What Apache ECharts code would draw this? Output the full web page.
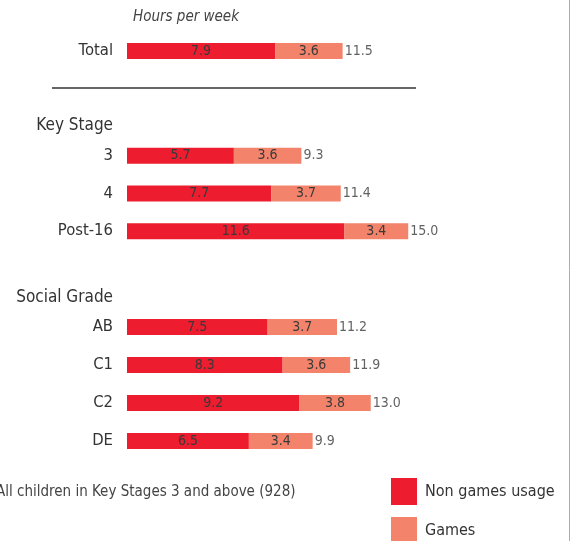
<!DOCTYPE html>
<html>
<head>
<meta charset="utf-8">
<script src="https://cdn.jsdelivr.net/npm/echarts@6/dist/echarts.min.js"></script>
<style>
  html, body { margin: 0; padding: 0; background: #fff; }
  #chart { width: 570px; height: 541px; }
</style>
</head>
<body>
<div id="chart"></div>
<script>
// data (hours per week)
const totalCats = ['Total'];
const totalNon = [7.9];
const totalGames = [3.6];
const totalAll = [11.5];

const ksCats = ['3', '4', 'Post-16'];
const ksNon = [5.7, 7.7, 11.6];
const ksGames = [3.6, 3.7, 3.4];
const ksAll = [9.3, 11.4, 15.0];

const sgCats = ['AB', 'C1', 'C2', 'DE'];
const sgNon = [7.5, 8.3, 9.2, 6.5];
const sgGames = [3.7, 3.6, 3.8, 3.4];
const sgAll = [11.2, 11.9, 13.0, 9.9];

const RED = '#ED1C2E';
const SALMON = '#F3836B';
const FONT = '"Liberation Sans Narrow", "DejaVu Sans Condensed", sans-serif';

const chart = echarts.init(document.getElementById('chart'));

// one grid per block so rows sit where they do in the picture
const blocks = [
  { cats: totalCats, non: totalNon, games: totalGames, all: totalAll, top: 32, height: 38 },
  { cats: ksCats, non: ksNon, games: ksGames, all: ksAll, top: 137, height: 113 },
  { cats: sgCats, non: sgNon, games: sgGames, all: sgAll, top: 308, height: 152 }
];

const grid = [], xAxis = [], yAxis = [], series = [];
const inLabel = {
  show: true, position: 'inside', color: '#3a3a3a',
  fontFamily: FONT, fontSize: 14, formatter: p => p.value.toFixed(1)
};

blocks.forEach((b, i) => {
  grid.push({ left: 127, width: 300, top: b.top, height: b.height });
  xAxis.push({ gridIndex: i, type: 'value', min: 0, max: 16, show: false });
  yAxis.push({
    gridIndex: i, type: 'category', data: b.cats, inverse: true,
    axisLine: { show: false }, axisTick: { show: false },
    axisLabel: { color: '#333', fontFamily: FONT, fontSize: 16.5, margin: 14 }
  });
  series.push({
    name: 'Non games usage', type: 'bar', stack: 's' + i,
    xAxisIndex: i, yAxisIndex: i, data: b.non, barWidth: 16,
    itemStyle: { color: RED }, label: inLabel
  });
  series.push({
    name: 'Games', type: 'bar', stack: 's' + i,
    xAxisIndex: i, yAxisIndex: i, data: b.games, barWidth: 16,
    itemStyle: { color: SALMON }, label: inLabel
  });
  // totals written just past the end of each bar
  series.push({
    type: 'scatter', xAxisIndex: i, yAxisIndex: i, symbolSize: 0,
    data: b.all.map((v, k) => [v, b.cats[k]]),
    label: {
      show: true, position: 'right', distance: 2, color: '#3a3a3a',
      fontFamily: FONT, fontSize: 14, formatter: p => p.value[0].toFixed(1)
    },
    silent: true
  });
});

const legendBase = {
  orient: 'vertical', left: 391, padding: 0,
  itemWidth: 26, itemHeight: 27, icon: 'rect',
  textStyle: { color: '#333', fontFamily: FONT, fontSize: 16, padding: [0, 0, 0, 3] }
};

const option = {
  animation: false,
  grid: grid,
  xAxis: xAxis,
  yAxis: yAxis,
  series: series,
  legend: [
    Object.assign({ data: ['Non games usage'], top: 478 }, legendBase),
    Object.assign({ data: ['Games'], top: 517 }, legendBase)
  ],
  graphic: [
    { type: 'text', left: 133, top: 10,
      style: { text: 'Hours per week', fill: '#444', font: 'italic 15px ' + FONT } },
    { type: 'line', shape: { x1: 52, y1: 88, x2: 416, y2: 88 },
      style: { stroke: '#333', lineWidth: 1.5 } },
    { type: 'text', x: 113, y: 126,
      style: { text: 'Key Stage', fill: '#333', font: '17px ' + FONT, align: 'right', verticalAlign: 'middle' } },
    { type: 'text', x: 113, y: 298,
      style: { text: 'Social Grade', fill: '#333', font: '17px ' + FONT, align: 'right', verticalAlign: 'middle' } },
    { type: 'text', x: -4, y: 492,
      style: { text: 'All children in Key Stages 3 and above (928)', fill: '#444', font: '15px ' + FONT, verticalAlign: 'middle' } },
    { type: 'line', shape: { x1: 569.5, y1: 0, x2: 569.5, y2: 541 },
      style: { stroke: '#E8919A', lineWidth: 1 } }
  ]
};
chart.setOption(option);
</script>
</body>
</html>
